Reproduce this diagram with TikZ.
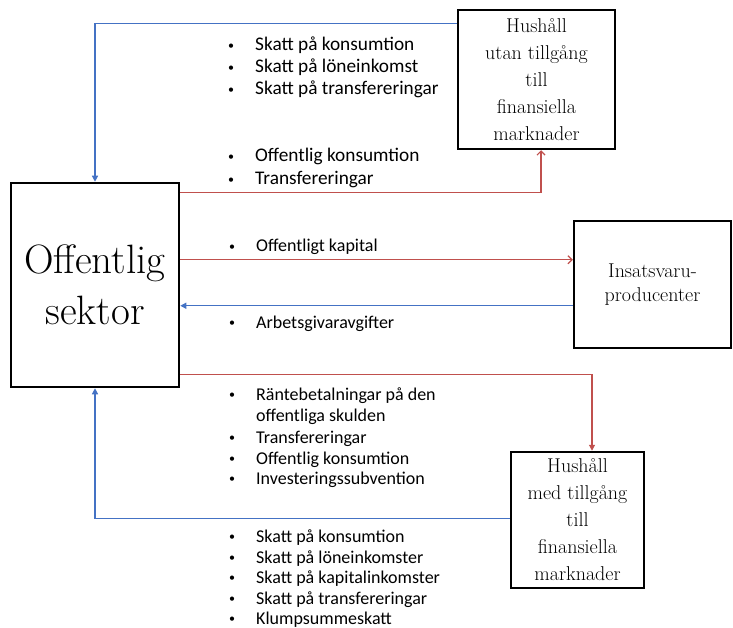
\documentclass[tikz,border=0pt]{standalone}
\usepackage{fontspec}
\newfontfamily\calib{Carlito}
\usetikzlibrary{arrows.meta}
\definecolor{cblue}{RGB}{68,114,196}
\definecolor{cred}{RGB}{192,80,77}
\newcommand{\blt}{\llap{\raisebox{1.2pt}{\fontsize{12}{12}\selectfont •}\hspace{21pt}}}
\begin{document}
\begin{tikzpicture}[x=1pt,y=-1pt,
  box/.style={draw=black, line width=2.5pt, align=center, inner sep=0pt},
  boxtxt/.style={font=\fontsize{20}{27}\selectfont},
  item/.style={anchor=base west, inner sep=0pt, font=\calib\fontsize{18}{22}\selectfont},
  bigitem/.style={item, font=\calib\fontsize{19.3}{22}\selectfont},
  bflow/.style={draw=cblue, line width=1.2pt, -{Triangle[length=6pt,width=6pt]}},
  rflow/.style={draw=cred, line width=1.2pt, -{Straight Barb[length=4pt,width=8pt]}},
  rflowf/.style={draw=cred, line width=1.2pt, -{Triangle[length=6pt,width=6pt]}},
]
\useasboundingbox (0,0) rectangle (733,628);

% boxes
\node[box, minimum width=168pt, minimum height=204pt, font=\fontsize{41}{51}\selectfont] (os) at (95,285) {Offentlig\\sektor};
\node[box, boxtxt, minimum width=157pt, minimum height=139pt] (h1) at (536.5,79.5) {Hushåll\\utan tillgång\\till\\finansiella\\marknader};
\node[box, minimum width=157pt, minimum height=127pt, font=\fontsize{20}{24}\selectfont] (ip) at (652.5,284.5) {Insatsvaru-\\producenter};
\node[box, boxtxt, minimum width=133pt, minimum height=136pt] (h2) at (577.5,520) {Hushåll\\med tillgång\\till\\finansiella\\marknader};

% connector points
\path (os.north east) ++(0,11) coordinate (r1s);
\path (os.north east) ++(0,78) coordinate (r2s);
\path (os.north east) ++(0,124) coordinate (b2e);
\path (os.north east) ++(0,193) coordinate (r3s);
\path (h1.north west) ++(0,15) coordinate (b1s);
\path (h2.north west) ++(0,68) coordinate (b3s);
\path (h1.south) ++(4.5,0) coordinate (r1e);
\path (h2.north) ++(14.5,0) coordinate (r3e);

% connectors
\draw[bflow] (b1s) -| (os.north);
\draw[rflow] (r1s) -| (r1e);
\draw[rflow] (r2s) -- (r2s -| ip.west);
\draw[bflow] (ip.west |- b2e) -- (b2e);
\draw[rflowf] (r3s) -| (r3e);
\draw[bflow] (b3s) -| (os.south);

% lists
\foreach \t/\y [count=\i] in {Skatt på konsumtion/50.5, Skatt på löneinkomst/72.5, Skatt på transfereringar/95}
  \node[bigitem] (a\i) at (255,\y) {\blt\t};
\foreach \t/\y [count=\i] in {Offentlig konsumtion/162, Transfereringar/185}
  \node[bigitem] (b\i) at (255,\y) {\blt\t};
\node[item] (c1) at (256,252) {\blt Offentligt kapital};
\node[item] (d1) at (256,328) {\blt Arbetsgivaravgifter};
\node[item] (e1) at (256,400) {\blt Räntebetalningar på den};
\node[item] (e2) at (256,421) {offentliga skulden};
\foreach \t/\y [count=\i from 3] in {Transfereringar/443, Offentlig konsumtion/464, Investeringssubvention/484}
  \node[item] (e\i) at (256,\y) {\blt\t};
\foreach \t/\y [count=\i] in {Skatt på konsumtion/542, Skatt på löneinkomster/563, Skatt på kapitalinkomster/583, Skatt på transfereringar/604, Klumpsummeskatt/624}
  \node[item] (f\i) at (256,\y) {\blt\t};
\end{tikzpicture}
\end{document}
